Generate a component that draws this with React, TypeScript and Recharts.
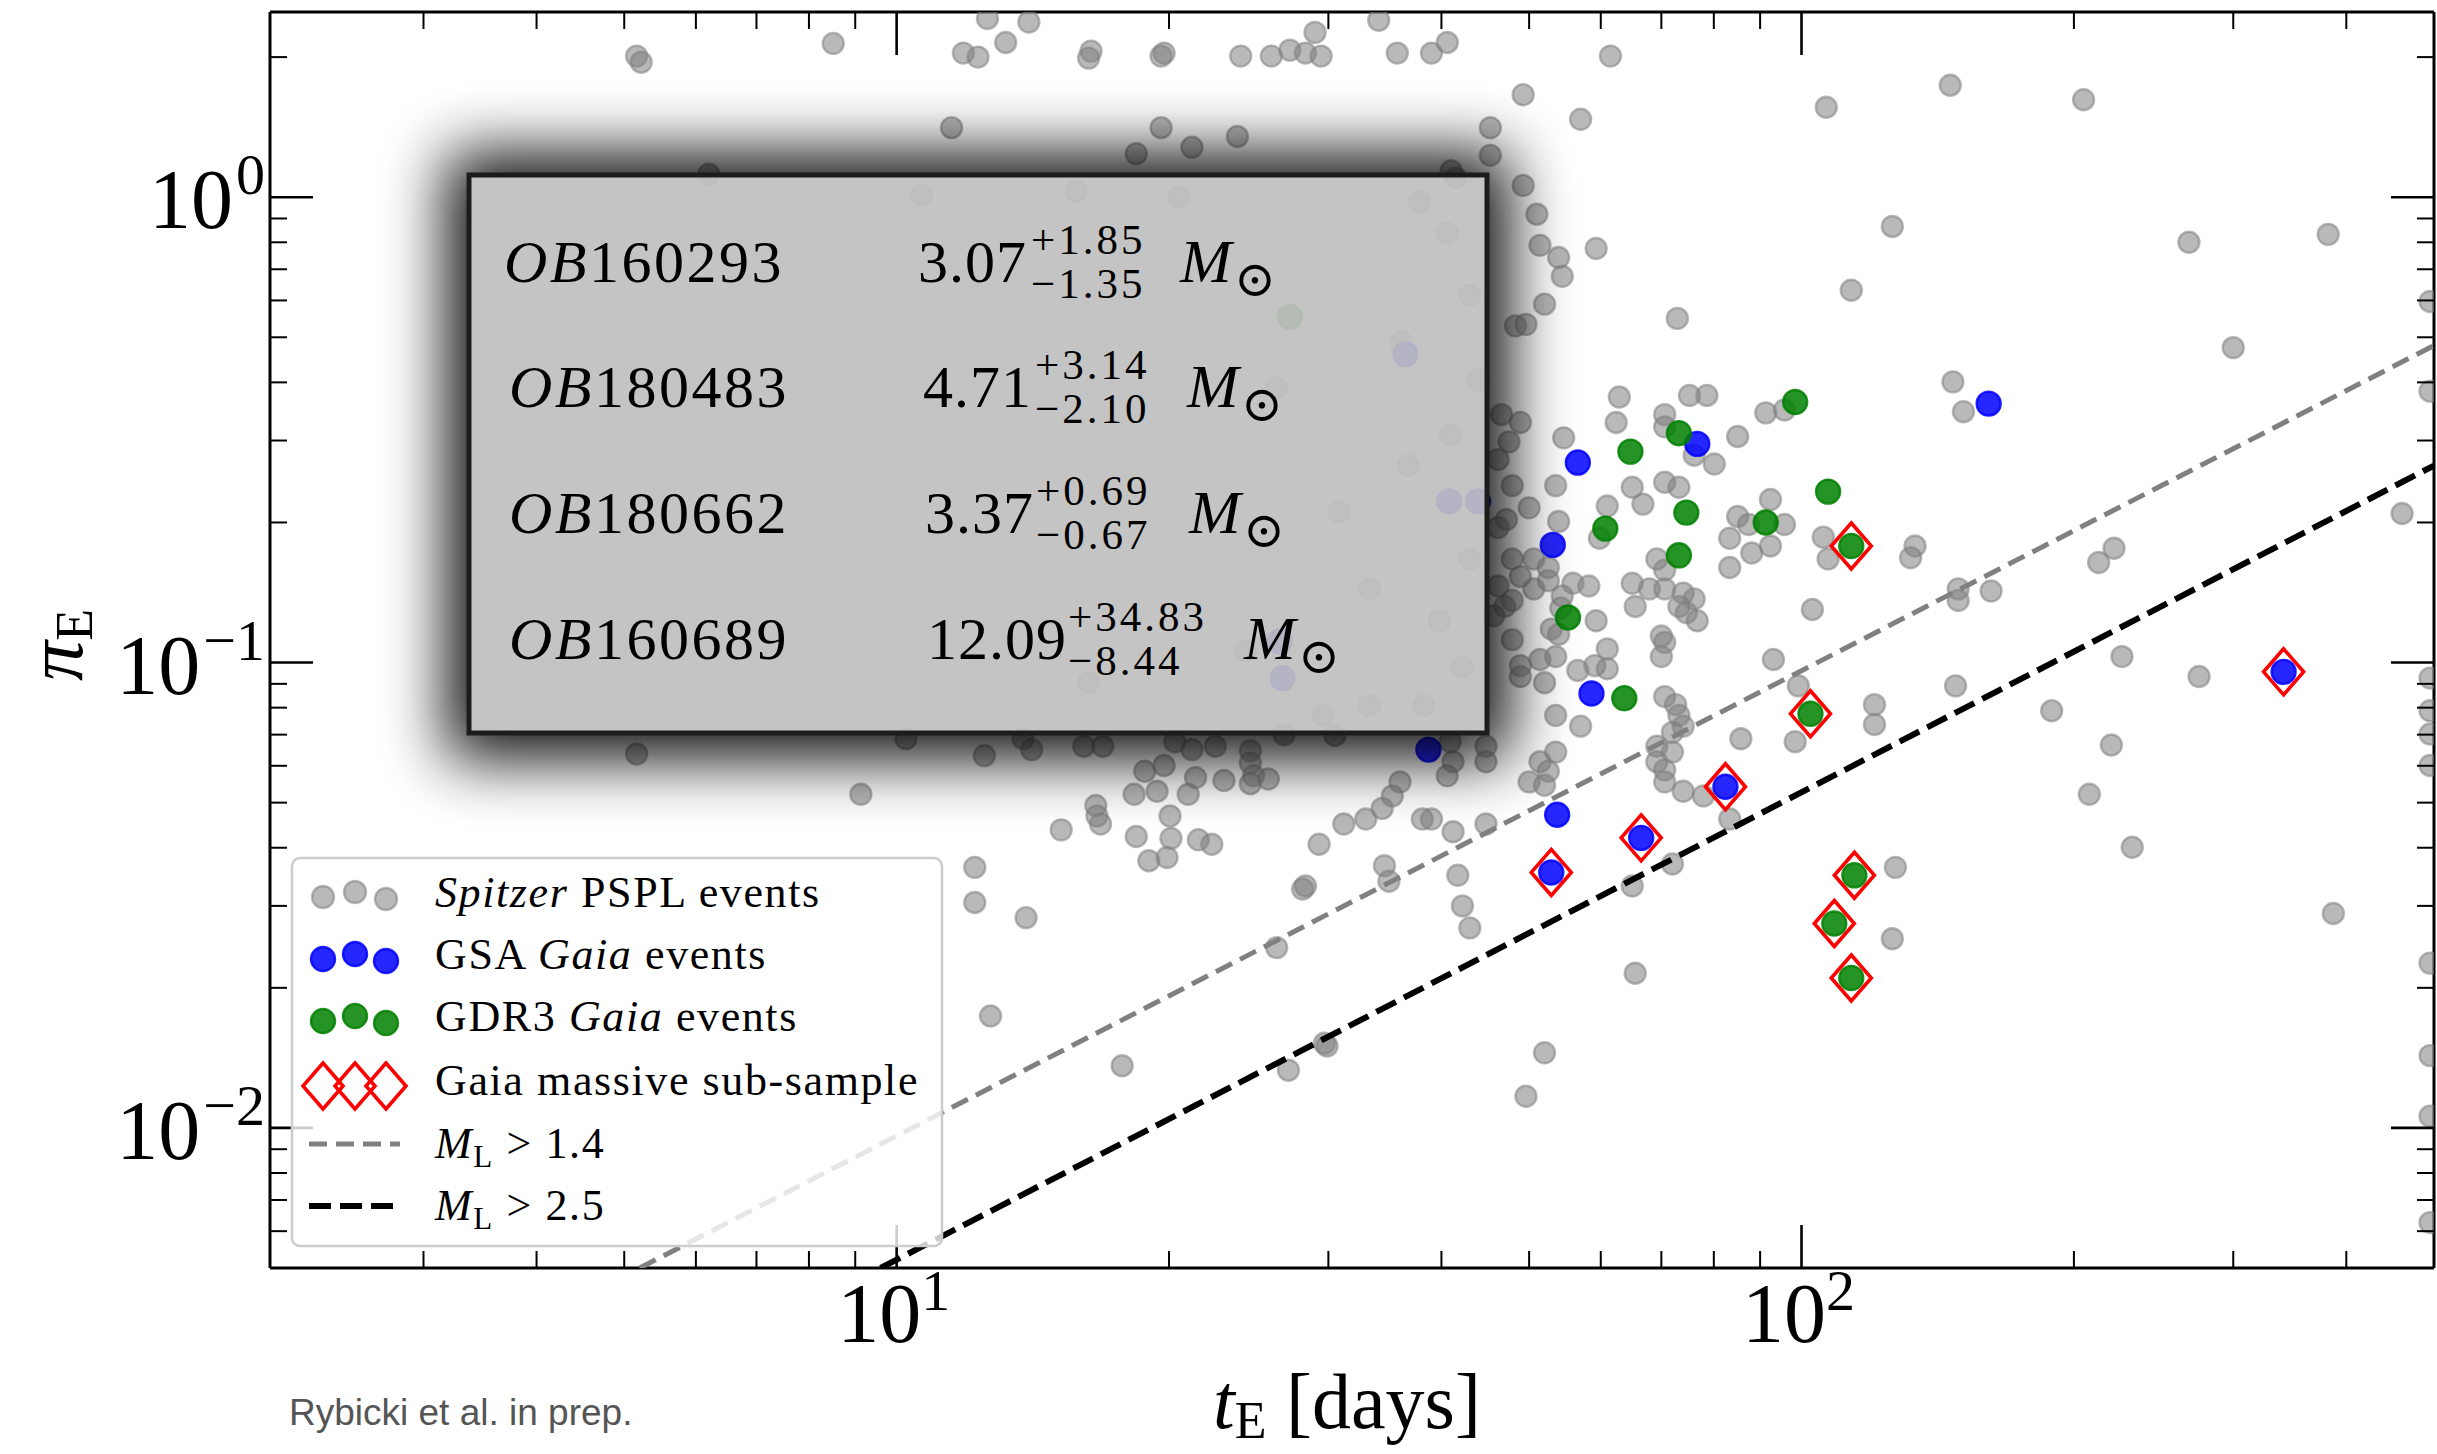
import React from "react";
import { ScatterChart, Scatter, XAxis, YAxis } from "recharts";

type Pt = [number, number];

// [tE in days, piE]
const spitzerEvents: Pt[] = [
  [5.16, 2.01], [5.22, 1.95], [8.51, 2.14], [11.85, 2.04], [12.3, 2.0], [12.6, 2.42], [13.2, 2.15], [14.0, 2.38], [16.4, 2.06], [16.3, 1.99],
  [19.6, 2.01], [19.75, 2.04], [24.0, 2.01], [25.95, 2.01], [27.2, 2.07], [28.3, 2.04], [29.45, 2.01], [29.0, 2.26], [34.1, 2.4], [35.75, 2.04],
  [39.0, 2.04], [40.6, 2.15], [61.5, 2.01], [11.5, 1.41], [19.6, 1.41], [18.4, 1.24], [21.2, 1.28], [23.8, 1.35], [6.2, 1.12], [41.0, 1.14],
  [45.3, 1.41], [45.3, 1.23], [49.25, 1.66], [57.0, 1.47], [49.25, 1.06], [146, 1.74], [205, 1.62], [106.5, 1.56], [51.0, 0.919], [51.4, 0.788],
  [53.9, 0.742], [54.4, 0.676], [59.3, 0.776], [52.0, 0.589], [48.3, 0.529], [49.6, 0.533], [72.9, 0.549], [126, 0.865], [113.5, 0.631], [268, 0.8],
  [382, 0.832], [300, 0.475], [495, 0.597], [495, 0.383], [147, 0.401], [151, 0.346], [62.9, 0.372], [62.4, 0.328], [75.2, 0.375], [78.6, 0.375],
  [70.6, 0.341], [70.6, 0.321], [91.3, 0.344], [95.75, 0.349], [85.0, 0.306], [80.1, 0.267], [76.1, 0.279], [54.6, 0.304], [46.6, 0.341], [48.9, 0.328],
  [47.5, 0.298], [46.2, 0.273], [47.9, 0.24], [53.5, 0.24], [65.0, 0.238], [70.6, 0.244], [73.2, 0.238], [92.4, 0.224], [61.0, 0.217], [66.8, 0.219],
  [85.0, 0.206], [87.4, 0.198], [95.75, 0.198], [53.9, 0.201], [59.8, 0.185], [69.2, 0.167], [70.6, 0.158], [83.3, 0.185], [88.1, 0.172], [83.3, 0.16],
  [92.4, 0.178], [105.7, 0.186], [107, 0.167], [133.5, 0.178], [132, 0.168], [221.5, 0.176], [213, 0.164], [461, 0.209], [47.9, 0.167], [50.6, 0.167],
  [52.5, 0.16], [48.9, 0.153], [52.5, 0.15], [46.2, 0.146], [47.9, 0.136], [55.9, 0.148], [58.2, 0.146], [50.6, 0.144], [54.4, 0.139], [65.0, 0.148],
  [67.9, 0.144], [70.6, 0.144], [74.0, 0.141], [76.1, 0.137], [65.5, 0.132], [73.2, 0.132], [74.6, 0.128], [102.8, 0.13], [149, 0.144], [149, 0.136],
  [162, 0.1425], [59.3, 0.123], [45.7, 0.126], [47.9, 0.112], [53.9, 0.115], [70.0, 0.114], [70.6, 0.1105], [61.0, 0.107], [70.0, 0.103], [76.7, 0.123],
  [51.4, 0.1015], [53.5, 0.103], [48.9, 0.0985], [48.9, 0.0933], [52.0, 0.0905], [56.6, 0.0962], [61.0, 0.097], [93.1, 0.1015], [226, 0.103], [275, 0.0933],
  [70.6, 0.0845], [72.6, 0.0812], [73.2, 0.077], [74.0, 0.073], [72.0, 0.0708], [99.2, 0.0891], [53.5, 0.077], [57.0, 0.073], [85.7, 0.0686], [98.4, 0.0676],
  [120.4, 0.0812], [120.4, 0.0736], [148, 0.0891], [189, 0.0788], [220, 0.0665], [69.2, 0.0661], [72.0, 0.0642], [69.2, 0.0612], [70.6, 0.0588], [53.5, 0.0642],
  [51.4, 0.0612], [52.5, 0.0584], [50.0, 0.0554], [52.0, 0.0545], [40.9, 0.0676], [41.2, 0.0612], [40.6, 0.0571], [44.8, 0.0612], [44.8, 0.0661], [36.0, 0.0554],
  [35.3, 0.0517], [34.4, 0.0486], [33.0, 0.0461], [31.2, 0.045], [29.3, 0.0407], [28.3, 0.0331], [39.0, 0.0461], [38.1, 0.0461], [41.2, 0.0433], [44.8, 0.045],
  [70.6, 0.0554], [74.0, 0.0529], [77.9, 0.0517], [83.3, 0.0461], [72.0, 0.0369], [41.7, 0.0349], [42.2, 0.03], [43.0, 0.0269], [34.6, 0.0366], [35.0, 0.0339],
  [65.0, 0.0331], [208, 0.0521], [232, 0.0401], [127, 0.0363], [126, 0.0255], [387, 0.0289], [65.5, 0.0215], [29.9, 0.015], [52.0, 0.0145], [49.6, 0.0117],
  [10.24, 0.0686], [12.5, 0.0631], [13.8, 0.0686], [14.1, 0.065], [16.1, 0.0661], [16.9, 0.0661], [20.3, 0.0676], [21.2, 0.065], [22.5, 0.0661], [24.6, 0.0646],
  [24.6, 0.0608], [24.8, 0.0571], [25.75, 0.0562], [24.6, 0.0549], [30.5, 0.0697], [18.8, 0.0584], [19.75, 0.0601], [18.3, 0.0521], [19.4, 0.0529], [21.4, 0.0566],
  [21.0, 0.0521], [23.0, 0.0558], [16.6, 0.0493], [16.65, 0.0468], [16.8, 0.045], [15.2, 0.0437], [18.4, 0.0423], [20.05, 0.0468], [20.1, 0.0419], [21.55, 0.0416],
  [22.3, 0.0407], [19.0, 0.0375], [19.9, 0.0381], [12.2, 0.0363], [12.2, 0.0305], [13.9, 0.0283], [28.1, 0.0326], [26.3, 0.0244], [12.7, 0.0174], [17.75, 0.0136],
  [29.7, 0.0152], [27.1, 0.0133], [5.16, 0.0636], [9.13, 0.0521], [495, 0.0926], [495, 0.0788], [495, 0.0702], [495, 0.0601], [495, 0.0226], [495, 0.0143],
  [495, 0.0106], [495, 0.00626], [46.2, 0.195], [47.2, 0.203], [54.2, 0.131], [52.9, 0.118], [59.1, 0.0985], [50.0, 0.215], [47.0, 0.132], [26.8, 0.07],
  // faint ones under the mass box
  [10.65, 1.01], [15.8, 1.03], [20.5, 1.0], [37.8, 0.977], [41.5, 1.1], [40.6, 0.838], [43.0, 0.616], [43.9, 0.405], [40.9, 0.309], [36.8, 0.265],
  [43.0, 0.167], [39.8, 0.123], [42.2, 0.0977], [38.2, 0.0808], [33.3, 0.0808], [29.6, 0.077], [33.3, 0.144], [30.8, 0.211], [24.3, 0.106], [16.3, 0.0906],
  [36.1, 0.489], [26.3, 0.389],
];

const gsaEvents: Pt[] = [
  [56.6, 0.269], [76.7, 0.295], [161, 0.36], [53.1, 0.179], [58.6, 0.0858], [38.7, 0.065], [53.7, 0.0471], [66.5, 0.042],
  [52.9, 0.0354], [82.4, 0.0541], [341, 0.0955], [40.8, 0.222], [43.9, 0.222], [36.5, 0.46], [26.5, 0.111], [26.7, 0.0926],
];

const gdr3Events: Pt[] = [
  [64.7, 0.284], [73.2, 0.311], [98.4, 0.363], [60.7, 0.194], [74.6, 0.21], [91.3, 0.2], [73.2, 0.17], [107, 0.233],
  [55.2, 0.125], [63.7, 0.0838], [113.5, 0.178], [102.3, 0.0776], [114.4, 0.0349], [108.7, 0.0275], [113.5, 0.021], [27.2, 0.553],
];

const massiveSample: Pt[] = [
  [113.5, 0.178], [341, 0.0955], [102.3, 0.0776], [82.4, 0.0541], [66.5, 0.042], [52.9, 0.0354], [114.4, 0.0349], [108.7, 0.0275], [113.5, 0.021],
];

const limitM14: Pt[] = [[5.2, 0.005], [500, 0.48]];
const limitM25: Pt[] = [[9.6, 0.005], [500, 0.265]];

const xTicks = [3, 4, 5, 6, 7, 8, 9, 10, 20, 30, 40, 50, 60, 70, 80, 90, 100, 200, 300, 400];
const yTicks = [
  0.006, 0.007, 0.008, 0.009, 0.01, 0.02, 0.03, 0.04, 0.05, 0.06, 0.07, 0.08, 0.09,
  0.1, 0.2, 0.3, 0.4, 0.5, 0.6, 0.7, 0.8, 0.9, 1, 2,
];

const boxRows = [
  { id: "160293", mass: "3.07", up: "+1.85", lo: "−1.35" },
  { id: "180483", mass: "4.71", up: "+3.14", lo: "−2.10" },
  { id: "180662", mass: "3.37", up: "+0.69", lo: "−0.67" },
  { id: "160689", mass: "12.09", up: "+34.83", lo: "−8.44" },
];

const W = 2437;
const H = 1454;
const PLOT = { left: 270, top: 12, right: 2434, bottom: 1268 };
const SERIF = '"Liberation Serif", "DejaVu Serif", serif';
const BOX = { x: 469, y: 175, w: 1018, h: 558 };

const toPoints = (arr: Pt[]) => arr.map(([x, y]) => ({ x, y }));

const isMajor = (v: number) => {
  const l = Math.log10(v);
  return Math.abs(l - Math.round(l)) < 1e-6;
};
const expLabel = (v: number) => {
  const e = Math.round(Math.log10(v));
  return e < 0 ? `−${-e}` : `${e}`;
};

const BottomTick = (p: any) => {
  const v = p.payload.value;
  const major = isMajor(v);
  return (
    <g>
      <line x1={p.x} x2={p.x} y1={PLOT.bottom} y2={PLOT.bottom - (major ? 43 : 17)} stroke="#000" strokeWidth={major ? 2.6 : 2} />
      {major && (
        <text x={p.x - 3} y={1342} textAnchor="middle" fontFamily={SERIF} fontSize={84} fill="#000">
          10<tspan dy={-32} fontSize={58}>{expLabel(v)}</tspan>
        </text>
      )}
    </g>
  );
};

const TopTick = (p: any) => {
  const major = isMajor(p.payload.value);
  return <line x1={p.x} x2={p.x} y1={PLOT.top} y2={PLOT.top + (major ? 43 : 17)} stroke="#000" strokeWidth={major ? 2.6 : 2} />;
};

const LeftTick = (p: any) => {
  const v = p.payload.value;
  const major = isMajor(v);
  return (
    <g>
      <line x1={PLOT.left} x2={PLOT.left + (major ? 43 : 17)} y1={p.y} y2={p.y} stroke="#000" strokeWidth={major ? 2.6 : 2} />
      {major && (
        <text x={265} y={p.y + 31} textAnchor="end" fontFamily={SERIF} fontSize={84} fill="#000">
          10<tspan dx={3} dy={-34} fontSize={58}>{expLabel(v)}</tspan>
        </text>
      )}
    </g>
  );
};

const RightTick = (p: any) => {
  const major = isMajor(p.payload.value);
  return <line x1={PLOT.right} x2={PLOT.right - (major ? 43 : 17)} y1={p.y} y2={p.y} stroke="#000" strokeWidth={major ? 2.6 : 2} />;
};

const dot = (fill: string, opacity: number, r: number) => (p: any) =>
  p.cx == null ? (
    <g />
  ) : (
    <circle cx={p.cx} cy={p.cy} r={r} fill={fill} fillOpacity={opacity} stroke={fill} strokeOpacity={opacity} strokeWidth={2.4} />
  );

const diamondPath = (cx: number, cy: number) =>
  `M${cx},${cy - 23} L${cx + 20},${cy} L${cx},${cy + 23} L${cx - 20},${cy} Z`;

const diamond = (p: any) =>
  p.cx == null ? <g /> : <path d={diamondPath(p.cx, p.cy)} fill="none" stroke="#ff0000" strokeWidth={3.6} />;

const noMark = () => <g />;

function Overlay() {
  const rowBase = [282, 407, 533, 659];
  const labelX = [504, 509, 509, 509];
  const massX = [918, 923, 925, 927];
  const supX = [1031, 1035, 1036, 1068];
  const mX = [1180, 1187, 1189, 1244];
  const grayDot = { fill: "#808080", fillOpacity: 0.55, stroke: "#808080", strokeOpacity: 0.55, strokeWidth: 2.4 };
  const blueDot = { fill: "#0000ff", fillOpacity: 0.85, stroke: "#0000ff", strokeOpacity: 0.85, strokeWidth: 2.4 };
  const greenDot = { fill: "#008000", fillOpacity: 0.85, stroke: "#008000", strokeOpacity: 0.85, strokeWidth: 2.4 };
  const legX = [323, 355, 386];
  const legDy = [2, -3, 4];

  return (
    <svg width={W} height={H} style={{ position: "absolute", left: 0, top: 0, pointerEvents: "none" }}>
      <defs>
        <filter id="boxBlur" filterUnits="userSpaceOnUse" x={0} y={0} width={W} height={H}>
          <feGaussianBlur stdDeviation={32} />
        </filter>
        <mask id="outsideBox" maskUnits="userSpaceOnUse" x={0} y={0} width={W} height={H}>
          <rect x={0} y={0} width={W} height={H} fill="#fff" />
          <rect x={BOX.x} y={BOX.y} width={BOX.w} height={BOX.h} fill="#000" />
        </mask>
      </defs>

      {/* legend */}
      <rect x={292} y={858} width={650} height={388} rx={8} fill="#fff" fillOpacity={0.8} stroke="#cccccc" strokeWidth={2.5} />
      {legX.map((x, i) => <circle key={"g" + i} cx={x} cy={895 + legDy[i]} r={11} {...grayDot} />)}
      {legX.map((x, i) => <circle key={"b" + i} cx={x} cy={957 + legDy[i]} r={12} {...blueDot} />)}
      {legX.map((x, i) => <circle key={"n" + i} cx={x} cy={1019 + legDy[i]} r={12} {...greenDot} />)}
      {legX.map((x, i) => <path key={"d" + i} d={diamondPath(x, 1086)} fill="none" stroke="#ff0000" strokeWidth={3.6} />)}
      <line x1={309} x2={400} y1={1144} y2={1144} stroke="#808080" strokeWidth={5} strokeDasharray="18 9" />
      <line x1={309} x2={400} y1={1206} y2={1206} stroke="#000" strokeWidth={6} strokeDasharray="22 9" />
      <g fontFamily={SERIF} fontSize={44} fill="#000" letterSpacing={1.6}>
        <text x={435} y={907}>
          <tspan fontStyle="italic">Spitzer</tspan> PSPL events
        </text>
        <text x={435} y={969}>
          GSA <tspan fontStyle="italic">Gaia</tspan> events
        </text>
        <text x={435} y={1031}>
          GDR3 <tspan fontStyle="italic">Gaia</tspan> events
        </text>
        <text x={435} y={1095}>Gaia massive sub-sample</text>
        <text x={435} y={1158}>
          <tspan fontStyle="italic">M</tspan>
          <tspan dy={9} fontSize={31}>L</tspan>
          <tspan dy={-9}> &gt; 1.4</tspan>
        </text>
        <text x={435} y={1220}>
          <tspan fontStyle="italic">M</tspan>
          <tspan dy={9} fontSize={31}>L</tspan>
          <tspan dy={-9}> &gt; 2.5</tspan>
        </text>
      </g>

      {/* mass box with its shadow */}
      <rect
        x={BOX.x - 22}
        y={BOX.y - 22}
        width={BOX.w + 44}
        height={BOX.h + 48}
        fill="#000"
        opacity={0.95}
        filter="url(#boxBlur)"
        mask="url(#outsideBox)"
      />
      <rect x={BOX.x} y={BOX.y} width={BOX.w} height={BOX.h} fill="#bfbfbf" fillOpacity={0.93} stroke="#1c1c1c" strokeWidth={5} />
      <g fontFamily={SERIF} fill="#000">
        {boxRows.map((r, i) => (
          <g key={r.id}>
            <text x={labelX[i]} y={rowBase[i]} fontSize={60} letterSpacing={2.5}>
              <tspan fontStyle="italic">OB</tspan>
              {r.id}
            </text>
            <text x={massX[i]} y={rowBase[i]} fontSize={60} letterSpacing={1}>
              {r.mass}
            </text>
            <text x={supX[i]} y={rowBase[i] - 28} fontSize={43} letterSpacing={3}>
              {r.up}
            </text>
            <text x={supX[i]} y={rowBase[i] + 16} fontSize={43} letterSpacing={3}>
              {r.lo}
            </text>
            <text x={mX[i]} y={rowBase[i]} fontSize={62} fontStyle="italic">
              M
            </text>
            <text x={mX[i] + 54} y={rowBase[i] + 14} fontSize={50}>
              ⊙
            </text>
          </g>
        ))}
      </g>

      {/* axis titles and credit */}
      <text x={1347} y={1428} textAnchor="middle" fontFamily={SERIF} fontSize={78} fill="#000">
        <tspan fontStyle="italic">t</tspan>
        <tspan dy={10} fontSize={52}>E</tspan>
        <tspan dy={-10}> [days]</tspan>
      </text>
      <text
        transform="translate(82,645) rotate(-90)"
        textAnchor="middle"
        fontFamily={SERIF}
        fontSize={80}
        fill="#000"
      >
        <tspan fontStyle="italic">π</tspan>
        <tspan dy={10} fontSize={52}>E</tspan>
      </text>
      <text x={289} y={1425} fontFamily='"Liberation Sans", Arial, sans-serif' fontSize={37} fill="#555">
        Rybicki et al. in prep.
      </text>
    </svg>
  );
}

export default function App() {
  return (
    <div style={{ position: "absolute", left: 0, top: 0, width: W, height: H, background: "#fff", overflow: "hidden" }}>
      <ScatterChart
        width={W}
        height={H}
        margin={{ top: PLOT.top - 1, right: W - PLOT.right - 1, bottom: H - PLOT.bottom - 1, left: PLOT.left - 1 }}
      >
        <XAxis
          xAxisId="b"
          type="number"
          dataKey="x"
          scale="log"
          domain={[2.03, 500]}
          allowDataOverflow
          ticks={xTicks}
          interval={0}
          height={1}
          tickLine={false}
          tick={BottomTick}
          axisLine={{ stroke: "#000", strokeWidth: 3 }}
        />
        <XAxis
          xAxisId="t"
          orientation="top"
          type="number"
          dataKey="x"
          scale="log"
          domain={[2.03, 500]}
          allowDataOverflow
          ticks={xTicks}
          interval={0}
          height={1}
          tickLine={false}
          tick={TopTick}
          axisLine={{ stroke: "#000", strokeWidth: 3 }}
        />
        <YAxis
          yAxisId="l"
          type="number"
          dataKey="y"
          scale="log"
          domain={[0.005, 2.5]}
          allowDataOverflow
          ticks={yTicks}
          interval={0}
          width={1}
          tickLine={false}
          tick={LeftTick}
          axisLine={{ stroke: "#000", strokeWidth: 3 }}
        />
        <YAxis
          yAxisId="r"
          orientation="right"
          type="number"
          dataKey="y"
          scale="log"
          domain={[0.005, 2.5]}
          allowDataOverflow
          ticks={yTicks}
          interval={0}
          width={1}
          tickLine={false}
          tick={RightTick}
          axisLine={{ stroke: "#000", strokeWidth: 3 }}
        />
        <Scatter xAxisId="t" yAxisId="r" data={toPoints(massiveSample)} shape={noMark} isAnimationActive={false} />
        <Scatter xAxisId="b" yAxisId="l" data={toPoints(spitzerEvents)} shape={dot("#808080", 0.55, 10.5)} isAnimationActive={false} />
        <Scatter xAxisId="b" yAxisId="l" data={toPoints(gsaEvents)} shape={dot("#0000ff", 0.85, 12)} isAnimationActive={false} />
        <Scatter xAxisId="b" yAxisId="l" data={toPoints(gdr3Events)} shape={dot("#008000", 0.85, 12)} isAnimationActive={false} />
        <Scatter xAxisId="b" yAxisId="l" data={toPoints(massiveSample)} shape={diamond} isAnimationActive={false} />
        <Scatter
          xAxisId="b"
          yAxisId="l"
          data={toPoints(limitM14)}
          shape={noMark}
          line={{ stroke: "#808080", strokeWidth: 5, strokeDasharray: "18 9" }}
          isAnimationActive={false}
        />
        <Scatter
          xAxisId="b"
          yAxisId="l"
          data={toPoints(limitM25)}
          shape={noMark}
          line={{ stroke: "#000000", strokeWidth: 6, strokeDasharray: "22 9" }}
          isAnimationActive={false}
        />
      </ScatterChart>
      <Overlay />
    </div>
  );
}
